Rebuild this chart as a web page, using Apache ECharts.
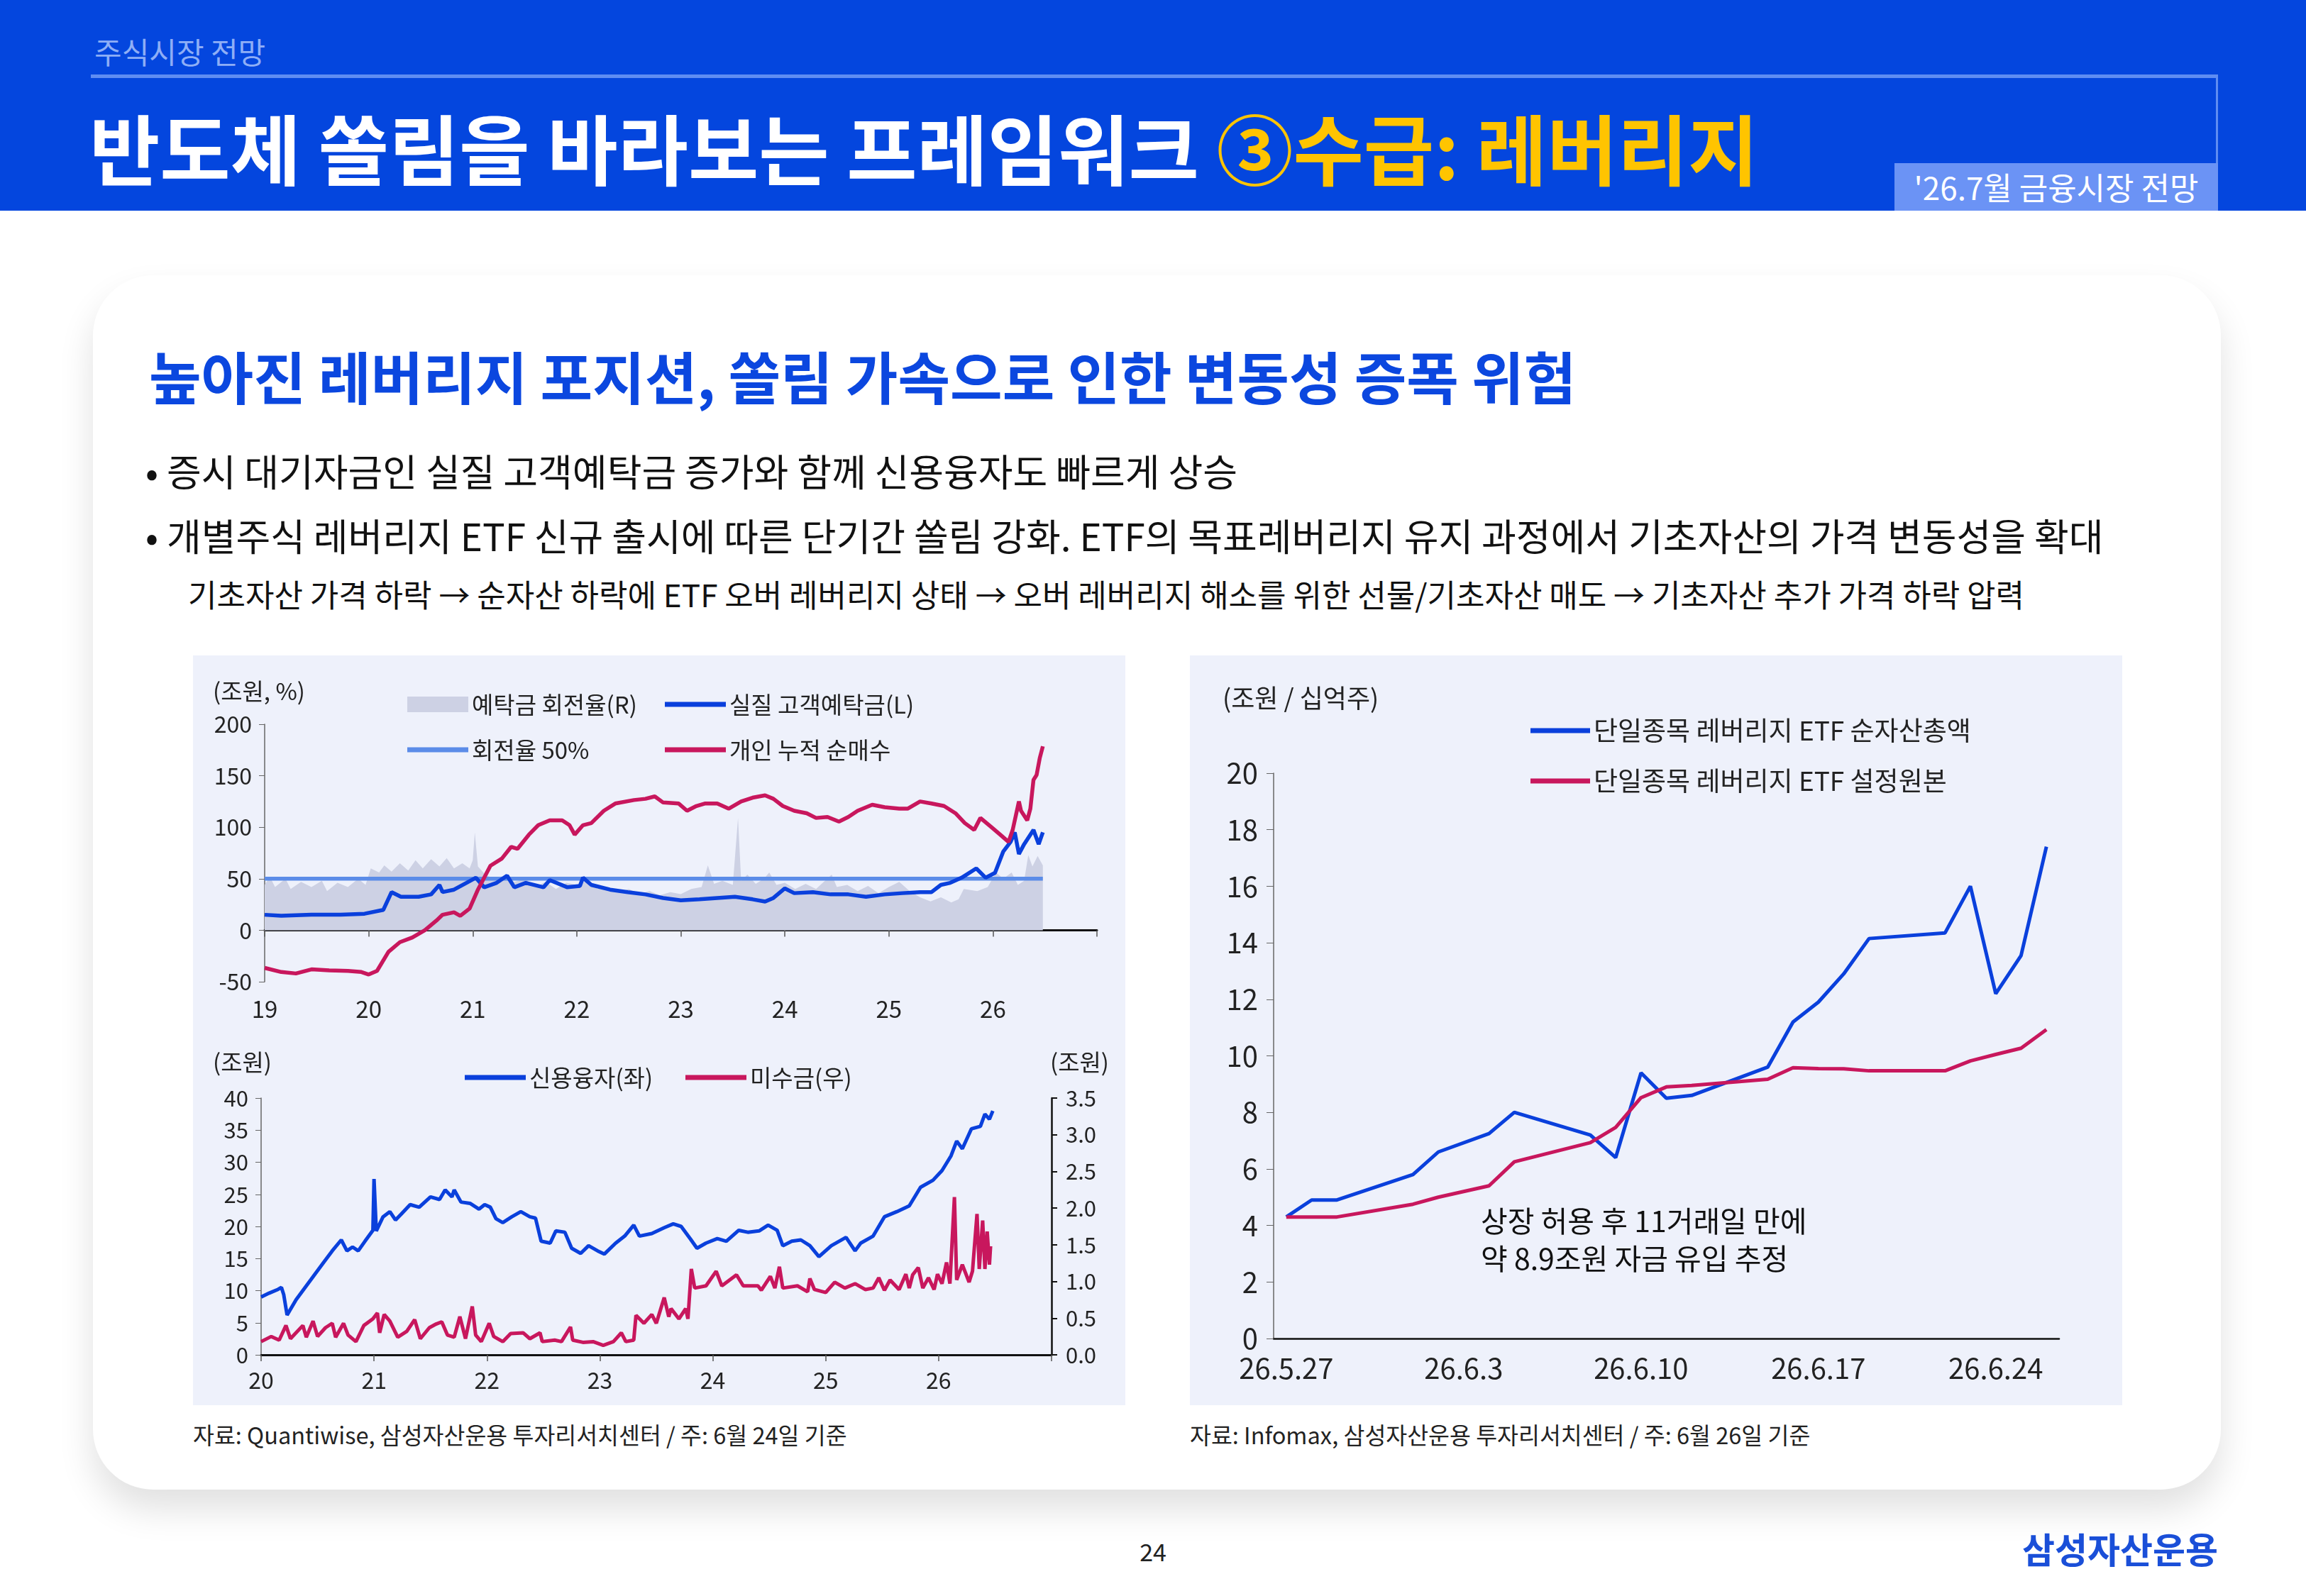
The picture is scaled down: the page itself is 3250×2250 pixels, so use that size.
<!DOCTYPE html>
<html>
<head>
<meta charset="utf-8">
<script src="https://cdn.jsdelivr.net/npm/echarts@6/dist/echarts.min.js"></script>
<style>
* { margin: 0; padding: 0; box-sizing: border-box; }
body {
  width: 3250px; height: 2250px; background: #fff; position: relative; overflow: hidden;
  font-family: "Noto Sans CJK KR", "Noto Sans", sans-serif; color: #111;
}
.header { position: absolute; left: 0; top: 0; width: 3250px; height: 297px; background: #0446de; }
.section { position: absolute; left: 133px; top: 44px; font-size: 42px; line-height: 56px; color: #8eaef6; }
.hline { position: absolute; left: 128px; top: 105px; width: 2998px; height: 5px; background: #5f8df2; }
.vline { position: absolute; left: 3123px; top: 105px; width: 3px; height: 126px; background: #5f8df2; }
.title { position: absolute; left: 126px; top: 140px; font-size: 108px; line-height: 132px; font-weight: 700; color: #fff; white-space: nowrap; }
.title span { color: #ffc400; }
.datebox { position: absolute; left: 2670px; top: 230px; width: 456px; height: 67px; background: #6b93f5;
  color: #fff; font-size: 44px; line-height: 67px; text-align: center; }
.card { position: absolute; left: 131px; top: 388px; width: 2999px; height: 1712px; background: #fff;
  border-radius: 85px; box-shadow: 0 28px 50px rgba(0, 0, 0, 0.12); }
.subtitle { position: absolute; left: 210px; top: 476px; font-size: 80px; line-height: 104px; font-weight: 700; color: #0b47df; white-space: nowrap; }
.bullet { position: absolute; left: 205px; font-size: 53px; line-height: 72px; color: #111; white-space: nowrap; }
.subline { position: absolute; left: 265px; top: 806px; font-size: 44px; line-height: 62px; color: #111; white-space: nowrap; }
.panel { position: absolute; top: 924px; width: 1314px; height: 1057px; background: #eef1fb; }
.source { position: absolute; top: 2000px; font-size: 32.5px; line-height: 44px; color: #222; white-space: nowrap; }
.page { position: absolute; left: 1600px; top: 2164px; width: 50px; text-align: center; font-size: 34px; line-height: 46px; color: #222; }
.logo { position: absolute; right: 124px; top: 2150px; font-size: 50px; line-height: 64px; font-weight: 700; color: #1a4fd8; }
</style>
</head>
<body>
<div class="header">
  <div class="section">주식시장 전망</div>
  <div class="hline"></div>
  <div class="vline"></div>
  <div class="title">반도체 쏠림을 바라보는 프레임워크 <span>③수급: 레버리지</span></div>
  <div class="datebox">'26.7월 금융시장 전망</div>
</div>

<div class="card"></div>
<div class="subtitle">높아진 레버리지 포지션, 쏠림 가속으로 인한 변동성 증폭 위험</div>
<div class="bullet" style="top: 627px">• 증시 대기자금인 실질 고객예탁금 증가와 함께 신용융자도 빠르게 상승</div>
<div class="bullet" style="top: 718px">• 개별주식 레버리지 ETF 신규 출시에 따른 단기간 쏠림 강화. ETF의 목표레버리지 유지 과정에서 기초자산의 가격 변동성을 확대</div>
<div class="subline">기초자산 가격 하락 → 순자산 하락에 ETF 오버 레버리지 상태 → 오버 레버리지 해소를 위한 선물/기초자산 매도 → 기초자산 추가 가격 하락 압력</div>

<div id="left-chart" class="panel" style="left: 272px"></div>
<div id="right-chart" class="panel" style="left: 1677px"></div>

<div class="source" style="left: 272px">자료: Quantiwise, 삼성자산운용 투자리서치센터 / 주: 6월 24일 기준</div>
<div class="source" style="left: 1677px">자료: Infomax, 삼성자산운용 투자리서치센터 / 주: 6월 26일 기준</div>
<div class="page">24</div>
<div class="logo">삼성자산운용</div>

<script>
// 예탁금 회전율 (연도, %)
const turnover = [
  [19.0, 44], [19.05, 52], [19.1, 42], [19.2, 50], [19.25, 40], [19.35, 47], [19.45, 42], [19.55, 48], [19.6, 38], [19.7, 46],
  [19.8, 42], [19.9, 50], [19.97, 44], [20.02, 60], [20.1, 56], [20.15, 63], [20.22, 57], [20.3, 65], [20.38, 58], [20.45, 68],
  [20.52, 60], [20.6, 69], [20.68, 62], [20.75, 70], [20.82, 60], [20.9, 65], [20.97, 60], [21.0, 68], [21.02, 95], [21.05, 62],
  [21.12, 54], [21.2, 50], [21.3, 53], [21.4, 47], [21.5, 50], [21.6, 42], [21.7, 47], [21.8, 40], [21.9, 46], [22.0, 44],
  [22.1, 48], [22.2, 40], [22.3, 42], [22.4, 37], [22.5, 40], [22.6, 35], [22.7, 38], [22.8, 34], [22.9, 37], [23.0, 35],
  [23.1, 40], [23.2, 42], [23.26, 63], [23.32, 45], [23.4, 48], [23.5, 44], [23.55, 109], [23.58, 48], [23.64, 54], [23.72, 45],
  [23.8, 50], [23.85, 56], [23.92, 44], [24.0, 46], [24.1, 40], [24.2, 45], [24.3, 40], [24.45, 54], [24.5, 42], [24.6, 44],
  [24.7, 38], [24.8, 43], [24.9, 36], [25.0, 42], [25.1, 47], [25.2, 38], [25.3, 32], [25.4, 28], [25.5, 32], [25.6, 27],
  [25.67, 30], [25.72, 40], [25.85, 38], [25.95, 42], [26.03, 56], [26.1, 50], [26.18, 56], [26.24, 44], [26.3, 48],
  [26.34, 73], [26.38, 62], [26.43, 72], [26.48, 63]
];
const turnoverLine = [[19.0, 50], [26.48, 50]];
// 실질 고객예탁금 (조원)
const deposit = [
  [19.0, 15], [19.16, 14], [19.45, 15], [19.73, 15], [19.96, 16], [20.14, 19.7], [20.22, 37], [20.31, 32.5], [20.48, 32.5],
  [20.6, 34.8], [20.68, 44], [20.71, 37], [20.82, 39.4], [20.94, 46], [21.03, 51], [21.11, 41.7], [21.23, 46], [21.33, 53],
  [21.4, 41.7], [21.51, 46], [21.68, 41.7], [21.74, 48.7], [21.91, 41.7], [22.03, 43], [22.06, 51], [22.14, 44], [22.32, 39.4],
  [22.49, 37], [22.66, 34.8], [22.83, 31.3], [23.0, 29], [23.18, 30], [23.35, 31.3], [23.52, 32.5], [23.69, 30], [23.81, 27.8],
  [23.89, 31.3], [24.0, 40.6], [24.09, 36], [24.27, 37], [24.44, 34.8], [24.61, 34.8], [24.78, 32.5], [24.96, 34.8], [25.13, 36],
  [25.3, 37], [25.41, 37], [25.5, 44], [25.59, 46], [25.7, 51], [25.84, 60], [25.93, 51], [26.02, 55.7], [26.1, 76.5],
  [26.17, 85.8], [26.21, 95], [26.25, 74], [26.3, 83.5], [26.36, 92.8], [26.39, 97.4], [26.44, 83.5], [26.48, 95]
];
// 개인 누적 순매수 (조원)
const netBuy = [
  [19.0, -36.6], [19.16, -40.6], [19.3, -42], [19.45, -38], [19.62, -39], [19.8, -39.5], [19.93, -40.6], [20.0, -43],
  [20.08, -39.5], [20.19, -21], [20.3, -11.6], [20.42, -7], [20.54, 0], [20.65, 9.3], [20.71, 15], [20.82, 17.4], [20.88, 14],
  [20.97, 21], [21.05, 39.4], [21.17, 62.6], [21.28, 69.6], [21.37, 81], [21.43, 79], [21.54, 92.8], [21.63, 102], [21.74, 106.7],
  [21.86, 106.7], [21.93, 102], [21.98, 92.8], [22.06, 102], [22.14, 104], [22.26, 116], [22.37, 123], [22.55, 126.4],
  [22.66, 127.6], [22.75, 129.9], [22.83, 124], [22.98, 123], [23.06, 116], [23.15, 120.6], [23.23, 123], [23.35, 123],
  [23.46, 118], [23.58, 125], [23.69, 128.7], [23.81, 131], [23.89, 127.6], [23.98, 120.6], [24.09, 116], [24.21, 113.6],
  [24.3, 109], [24.41, 110], [24.52, 105.5], [24.61, 110], [24.7, 116], [24.84, 121.8], [24.96, 119.4], [25.1, 118],
  [25.18, 118], [25.3, 125], [25.41, 123], [25.53, 120.6], [25.64, 113.6], [25.73, 104], [25.82, 97.4], [25.88, 109],
  [25.99, 99.7], [26.07, 92.8], [26.15, 85.8], [26.19, 97.4], [26.25, 125], [26.27, 116], [26.33, 106.7], [26.36, 118],
  [26.39, 146], [26.42, 150.7], [26.45, 167], [26.48, 178.6]
];
// 신용융자 (조원, 좌)
const credit = [
  [20.0, 9.0], [20.07, 9.6], [20.15, 10.2], [20.18, 10.5], [20.2, 9.4], [20.23, 6.2], [20.31, 8.6], [20.39, 10.5], [20.47, 12.4],
  [20.55, 14.3], [20.63, 16.2], [20.71, 17.9], [20.76, 16.2], [20.81, 16.8], [20.86, 16.2], [20.92, 17.7], [20.99, 19.4],
  [21.0, 27.4], [21.02, 19.3], [21.08, 21.5], [21.14, 22.3], [21.19, 21], [21.24, 21.9], [21.32, 23.4], [21.4, 23], [21.5, 24.6],
  [21.58, 24.2], [21.63, 25.7], [21.69, 24.6], [21.71, 25.7], [21.77, 23.8], [21.85, 23.6], [21.93, 22.7], [21.98, 23.4],
  [22.03, 23], [22.08, 21.2], [22.14, 20.6], [22.22, 21.5], [22.3, 22.3], [22.38, 21.5], [22.43, 21.3], [22.48, 17.7],
  [22.56, 17.4], [22.61, 19.3], [22.69, 19.1], [22.75, 16.6], [22.83, 15.8], [22.9, 17], [22.98, 16.2], [23.04, 15.7],
  [23.14, 17.4], [23.22, 18.5], [23.3, 20.2], [23.35, 18.5], [23.46, 18.9], [23.57, 19.8], [23.65, 20.4], [23.72, 20],
  [23.8, 18.1], [23.86, 16.6], [23.94, 17.4], [24.04, 18.1], [24.12, 17.7], [24.23, 19.4], [24.31, 19.1], [24.41, 19.3],
  [24.49, 20.2], [24.57, 19.4], [24.62, 17], [24.7, 17.7], [24.78, 17.9], [24.86, 17], [24.94, 15.3], [25.05, 17],
  [25.18, 18.3], [25.26, 16.2], [25.31, 17.4], [25.42, 18.5], [25.52, 21.5], [25.63, 22.3], [25.74, 23.2], [25.84, 26.1],
  [25.95, 27.2], [26.03, 28.7], [26.11, 31], [26.16, 33.3], [26.21, 32.1], [26.29, 35.2], [26.37, 35.6], [26.41, 37.5],
  [26.45, 36.7], [26.48, 38]
];
// 미수금 (조원, 우)
const unpaid = [
  [20.0, 0.18], [20.09, 0.25], [20.16, 0.2], [20.22, 0.4], [20.26, 0.22], [20.37, 0.4], [20.4, 0.24], [20.46, 0.46],
  [20.5, 0.25], [20.57, 0.37], [20.63, 0.43], [20.66, 0.24], [20.73, 0.43], [20.77, 0.27], [20.84, 0.18], [20.91, 0.4],
  [20.99, 0.49], [21.03, 0.57], [21.05, 0.3], [21.09, 0.55], [21.14, 0.46], [21.21, 0.24], [21.29, 0.32], [21.36, 0.48],
  [21.41, 0.22], [21.49, 0.37], [21.55, 0.42], [21.6, 0.45], [21.65, 0.27], [21.71, 0.24], [21.76, 0.52], [21.81, 0.22],
  [21.87, 0.66], [21.9, 0.27], [21.95, 0.18], [22.02, 0.43], [22.06, 0.25], [22.14, 0.18], [22.21, 0.29], [22.32, 0.3],
  [22.38, 0.22], [22.47, 0.3], [22.49, 0.18], [22.6, 0.2], [22.66, 0.18], [22.74, 0.38], [22.76, 0.2], [22.85, 0.17],
  [22.94, 0.18], [23.03, 0.13], [23.12, 0.18], [23.19, 0.3], [23.23, 0.18], [23.3, 0.2], [23.32, 0.54], [23.39, 0.43],
  [23.46, 0.55], [23.5, 0.43], [23.57, 0.78], [23.61, 0.52], [23.63, 0.63], [23.7, 0.49], [23.76, 0.63], [23.78, 0.49],
  [23.81, 1.17], [23.84, 0.91], [23.94, 0.94], [24.03, 1.14], [24.08, 0.94], [24.21, 1.09], [24.27, 0.94], [24.4, 0.94],
  [24.43, 0.88], [24.51, 1.07], [24.55, 0.91], [24.59, 1.2], [24.62, 0.91], [24.75, 0.94], [24.84, 0.86], [24.86, 1.04],
  [24.9, 0.89], [25.0, 0.85], [25.08, 0.99], [25.17, 0.91], [25.26, 0.97], [25.35, 0.89], [25.42, 0.91], [25.47, 1.05],
  [25.52, 0.88], [25.57, 1.02], [25.65, 0.89], [25.71, 1.1], [25.74, 0.91], [25.77, 1.09], [25.82, 1.19], [25.86, 0.91],
  [25.91, 1.05], [25.96, 0.89], [25.99, 1.1], [26.03, 0.97], [26.07, 1.26], [26.1, 0.97], [26.14, 2.15], [26.16, 1.02],
  [26.21, 1.23], [26.27, 0.99], [26.3, 1.14], [26.34, 1.92], [26.36, 1.17], [26.39, 1.83], [26.41, 1.17], [26.43, 1.68],
  [26.45, 1.23], [26.46, 1.48]
];

// 단일종목 레버리지 ETF (영업일 외 null)
const etfDates = [
  '26.5.27', '26.5.28', '26.5.29', '26.5.30', '26.5.31', '26.6.1', '26.6.2', '26.6.3', '26.6.4', '26.6.5', '26.6.6',
  '26.6.7', '26.6.8', '26.6.9', '26.6.10', '26.6.11', '26.6.12', '26.6.13', '26.6.14', '26.6.15', '26.6.16', '26.6.17',
  '26.6.18', '26.6.19', '26.6.20', '26.6.21', '26.6.22', '26.6.23', '26.6.24', '26.6.25', '26.6.26'
];
const etfAum = [4.3, 4.9, 4.9, null, null, 5.8, 6.6, null, 7.25, 8.0, null, null, 7.2, 6.4, 9.4, 8.5, 8.6, null, null,
  9.6, 11.2, 11.9, 12.9, 14.15, null, null, 14.35, 16.0, 12.2, 13.55, 17.4];
const etfPrincipal = [4.3, 4.3, 4.3, null, null, 4.75, 5.0, null, 5.4, 6.25, null, null, 6.93, 7.47, 8.52, 8.9, 8.95, null, null,
  9.17, 9.58, 9.55, 9.54, 9.47, null, null, 9.47, 9.82, 10.05, 10.27, 10.93];

const FONT = '"Noto Sans CJK KR", "Noto Sans", sans-serif';
const BLUE = '#0a40dc';
const RED = '#c8175d';
const LIGHT = '#5b8ce8';
const GRAY = '#cdd1e4';

const textStyle = (size) => ({ fontFamily: FONT, fontSize: size, color: '#222' });
const lineLegend = (data, left, top, opts) => Object.assign({
  data: data, left: left, top: top, padding: 0, icon: 'rect', itemWidth: 86, itemHeight: 7,
  textStyle: Object.assign(textStyle(33), { lineHeight: 40 }), orient: 'vertical', itemGap: 24
}, opts || {});

const leftChart = echarts.init(document.getElementById('left-chart'));
leftChart.setOption({
  animation: false,
  grid: [
    { left: 101, top: 97, width: 1173, height: 363 },
    { left: 96, top: 624, width: 1114, height: 362 }
  ],
  legend: [
    lineLegend(['예탁금 회전율(R)'], 302, 49, { itemHeight: 22 }),
    lineLegend(['회전율 50%'], 302, 113),
    lineLegend(['실질 고객예탁금(L)', '개인 누적 순매수'], 665, 49),
    lineLegend(['신용융자(좌)'], 383, 575),
    lineLegend(['미수금(우)'], 694, 575)
  ],
  graphic: [
    { type: 'text', x: 28, y: 50, style: { text: '(조원, %)', font: '33px ' + FONT, fill: '#222', verticalAlign: 'middle' } },
    { type: 'text', x: 28, y: 573, style: { text: '(조원)', font: '33px ' + FONT, fill: '#222', verticalAlign: 'middle' } },
    { type: 'text', x: 1208, y: 573, style: { text: '(조원)', font: '33px ' + FONT, fill: '#222', verticalAlign: 'middle' } }
  ],
  xAxis: [
    {
      type: 'value', gridIndex: 0, min: 19, max: 27, interval: 1, position: 'bottom',
      axisLine: { onZero: true, lineStyle: { color: '#111', width: 3 } },
      axisTick: { show: true, length: 9, lineStyle: { color: '#555', width: 1.5 } },
      axisLabel: { show: false }, splitLine: { show: false }
    },
    {
      type: 'value', gridIndex: 0, min: 19, max: 27, interval: 1, position: 'bottom',
      axisLine: { show: false, onZero: false }, axisTick: { show: false }, splitLine: { show: false },
      axisLabel: Object.assign(textStyle(33), { margin: 22, formatter: v => (v >= 27 ? '' : String(v)) })
    },
    {
      type: 'value', gridIndex: 1, min: 20, max: 27, interval: 1,
      axisLine: { lineStyle: { color: '#111', width: 3 } },
      axisTick: { length: 9, lineStyle: { color: '#555', width: 1.5 } }, splitLine: { show: false },
      axisLabel: Object.assign(textStyle(32), { margin: 20, formatter: v => (v >= 27 ? '' : String(v)) })
    }
  ],
  yAxis: [
    {
      type: 'value', gridIndex: 0, min: -50, max: 200, interval: 50,
      axisLine: { show: true, lineStyle: { color: '#666', width: 1.5 } },
      axisTick: { show: true, length: 8, lineStyle: { color: '#666' } }, splitLine: { show: false },
      axisLabel: Object.assign(textStyle(32), { margin: 18 })
    },
    {
      type: 'value', gridIndex: 1, min: 0, max: 40, interval: 5,
      axisLine: { show: true, lineStyle: { color: '#666', width: 1.5 } },
      axisTick: { show: true, length: 8, lineStyle: { color: '#666' } }, splitLine: { show: false },
      axisLabel: Object.assign(textStyle(31), { margin: 18 })
    },
    {
      type: 'value', gridIndex: 1, min: 0, max: 3.5, interval: 0.5, position: 'right',
      axisLine: { show: true, lineStyle: { color: '#111', width: 2.5 } },
      axisTick: { show: true, length: 8, lineStyle: { color: '#111', width: 2 } }, splitLine: { show: false },
      axisLabel: Object.assign(textStyle(31), { margin: 20, formatter: v => v.toFixed(1) })
    }
  ],
  series: [
    {
      name: '예탁금 회전율(R)', type: 'line', xAxisIndex: 0, yAxisIndex: 0, data: turnover,
      showSymbol: false, color: GRAY, itemStyle: { color: GRAY }, lineStyle: { width: 0 },
      areaStyle: { color: GRAY, opacity: 1 }, z: 1
    },
    {
      name: '회전율 50%', type: 'line', xAxisIndex: 0, yAxisIndex: 0, data: turnoverLine,
      showSymbol: false, color: LIGHT, lineStyle: { width: 5.5, color: LIGHT }, z: 2
    },
    {
      name: '실질 고객예탁금(L)', type: 'line', xAxisIndex: 0, yAxisIndex: 0, data: deposit,
      showSymbol: false, color: BLUE, lineStyle: { width: 5.5, color: BLUE }, z: 3
    },
    {
      name: '개인 누적 순매수', type: 'line', xAxisIndex: 0, yAxisIndex: 0, data: netBuy,
      showSymbol: false, color: RED, lineStyle: { width: 5.5, color: RED }, z: 4
    },
    {
      name: '신용융자(좌)', type: 'line', xAxisIndex: 2, yAxisIndex: 1, data: credit,
      showSymbol: false, color: BLUE, lineStyle: { width: 5, color: BLUE }, z: 3
    },
    {
      name: '미수금(우)', type: 'line', xAxisIndex: 2, yAxisIndex: 2, data: unpaid,
      showSymbol: false, color: RED, lineStyle: { width: 5, color: RED }, z: 4
    }
  ]
});

const rightChart = echarts.init(document.getElementById('right-chart'));
rightChart.setOption({
  animation: false,
  grid: { left: 118, top: 166, width: 1107, height: 797 },
  legend: lineLegend(['단일종목 레버리지 ETF 순자산총액', '단일종목 레버리지 ETF 설정원본'], 480, 86,
    { itemWidth: 84, itemGap: 31, textStyle: Object.assign(textStyle(37), { lineHeight: 40 }) }),
  graphic: [
    { type: 'text', x: 46, y: 60, style: { text: '(조원 / 십억주)', font: '36px ' + FONT, fill: '#222', verticalAlign: 'middle' } },
    { type: 'text', x: 410, y: 797, style: { text: '상장 허용 후 11거래일 만에', font: '41px ' + FONT, fill: '#111', verticalAlign: 'middle' } },
    { type: 'text', x: 410, y: 850, style: { text: '약 8.9조원 자금 유입 추정', font: '41px ' + FONT, fill: '#111', verticalAlign: 'middle' } }
  ],
  xAxis: {
    type: 'category', data: etfDates, boundaryGap: true,
    axisLine: { lineStyle: { color: '#111', width: 2.5 } },
    axisTick: { interval: 6, length: 10, lineStyle: { color: '#555', width: 1.5 } },
    axisLabel: Object.assign(textStyle(40), { interval: 6, margin: 22 })
  },
  yAxis: {
    type: 'value', min: 0, max: 20, interval: 2,
    axisLine: { show: true, lineStyle: { color: '#666', width: 1.5 } },
    axisTick: { show: true, length: 10, lineStyle: { color: '#666' } }, splitLine: { show: false },
    axisLabel: Object.assign(textStyle(40), { margin: 22 })
  },
  series: [
    {
      name: '단일종목 레버리지 ETF 순자산총액', type: 'line', data: etfAum, connectNulls: true,
      showSymbol: false, color: BLUE, lineStyle: { width: 5, color: BLUE }, z: 3
    },
    {
      name: '단일종목 레버리지 ETF 설정원본', type: 'line', data: etfPrincipal, connectNulls: true,
      showSymbol: false, color: RED, lineStyle: { width: 5, color: RED }, z: 4
    }
  ]
});
</script>
</body>
</html>
